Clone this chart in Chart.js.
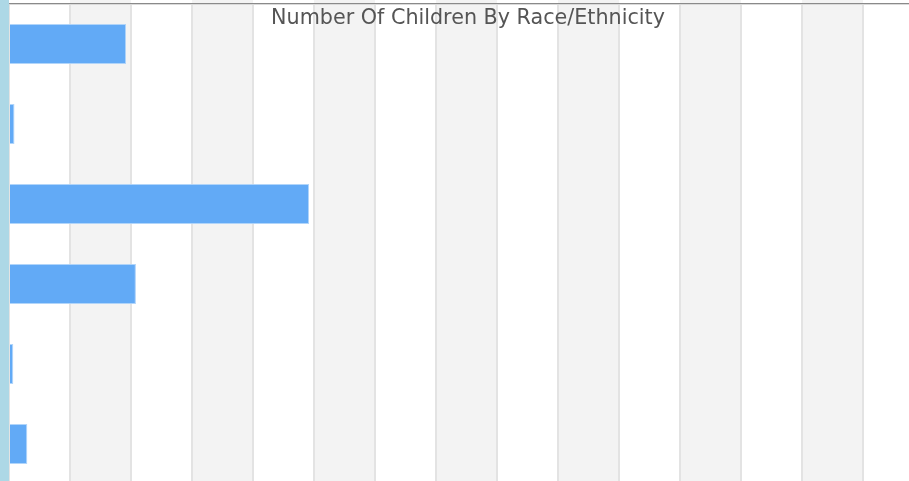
<!DOCTYPE html>
<html lang="en">
  <head>
    <meta charset="UTF-8" />
    <title>Number Of Children By Race/Ethnicity</title>
    <style>
      html, body { margin: 0; padding: 0; overflow: hidden; background: #fff; }
      #wrap { position: relative; width: 924px; height: 484px; }
    </style>
  </head>
  <body>
    <div id="wrap">
      <canvas id="bars" width="924" height="484"></canvas>
    </div>

    <script src="https://cdn.jsdelivr.net/npm/chart.js"></script>
    <script>
      // categories (axis labels are hidden in the original)
      const races = ["White", "Black", "Hispanic", "Asian", "American Indian", "Two or more"];
      const children = [1.92, 0.09, 4.92, 2.08, 0.07, 0.3];
      const xMin = 0;
      const xMax = 15;

      // alternating grey bands + left strip + top rule + overlaid title
      const decor = {
        id: "decor",
        beforeDraw(chart) {
          const { ctx, chartArea, scales } = chart;
          const x = scales.x;
          ctx.save();
          ctx.fillStyle = "#f3f3f3";
          for (let v = xMin; v < xMax; v++) {
            if (v % 2 === 1) {
              const a = x.getPixelForValue(v);
              const b = x.getPixelForValue(v + 1);
              ctx.fillRect(a, chartArea.top - 4, b - a, chartArea.bottom);
            }
          }
          ctx.restore();
        },
        afterDraw(chart) {
          const { ctx } = chart;
          ctx.save();
          ctx.fillStyle = "#add8e6";
          ctx.fillRect(0, 0, 9, chart.height);
          ctx.fillStyle = "#8a8a8a";
          ctx.fillRect(9, 3, chart.width, 1);
          ctx.fillStyle = "#dadada";
          ctx.fillRect(9, 4, chart.width, 1);
          ctx.fillStyle = "#555";
          ctx.font = '20.7px "DejaVu Sans"';
          ctx.textAlign = "center";
          ctx.textBaseline = "middle";
          ctx.fillText("Number Of Children By Race/Ethnicity", 468, 19);
          ctx.restore();
        },
      };

      new Chart(document.getElementById("bars"), {
        type: "bar",
        data: {
          labels: races,
          datasets: [
            {
              label: "Children",
              data: children,
              backgroundColor: "#62aaf6",
              borderColor: "rgba(168, 208, 250, 0.9)",
              borderWidth: 1,
              barPercentage: 1,
              categoryPercentage: 0.5,
            },
          ],
        },
        options: {
          indexAxis: "y",
          responsive: false,
          animation: false,
          devicePixelRatio: 1,
          layout: { padding: { left: 9, top: 4, right: 0, bottom: 0 } },
          plugins: { legend: { display: false }, title: { display: false } },
          scales: {
            x: {
              min: xMin,
              max: xMax,
              ticks: { display: false, stepSize: 1 },
              border: { display: false },
              grid: { color: "#e3e3e3", lineWidth: 2, drawTicks: false },
            },
            y: { display: false },
          },
        },
        plugins: [decor],
      });
    </script>
  </body>
</html>
